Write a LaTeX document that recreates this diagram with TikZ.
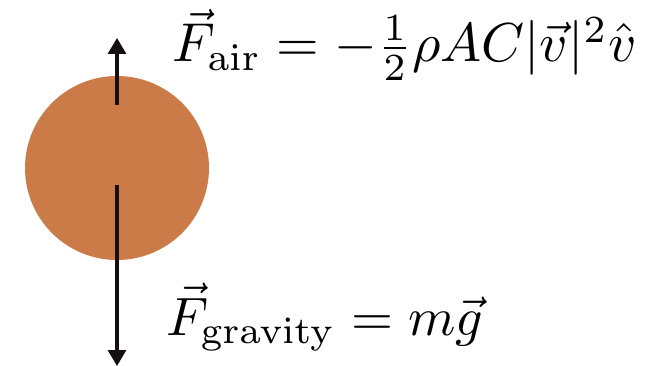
\documentclass[tikz,border=0pt]{standalone}
\usetikzlibrary{arrows.meta}
\definecolor{ballcol}{RGB}{203,123,72}
\definecolor{arrcol}{RGB}{20,14,14}
\tikzset{
  force/.style={draw=arrcol, line width=3.2pt, -{Triangle[length=16pt,width=18pt]}},
  formula/.style={inner sep=0pt, anchor=base west}
}
\begin{document}
\begin{tikzpicture}[x=1pt,y=-1pt]
\useasboundingbox (0,0) rectangle (645,366);
\node[circle, fill=ballcol, minimum size=184pt, inner sep=0pt] (ball) at (117,168) {};
\coordinate (upstart) at (117,105);
\coordinate (uptip) at (117,38);
\coordinate (downstart) at (117,185);
\coordinate (downtip) at (117,366);
\draw[force] (upstart) -- (uptip);
\draw[force] (downstart) -- (downtip);
\node[formula, scale=5.48] (fair) at (171,62) {$\vec F_{\mathrm{air}} = -\frac{1}{2}\rho A C|\vec v|^2\hat v$};
\node[formula, scale=5.4] (fgrav) at (165,335) {$\vec F_{\mathrm{gravity}} = m\vec g$};
\end{tikzpicture}
\end{document}
